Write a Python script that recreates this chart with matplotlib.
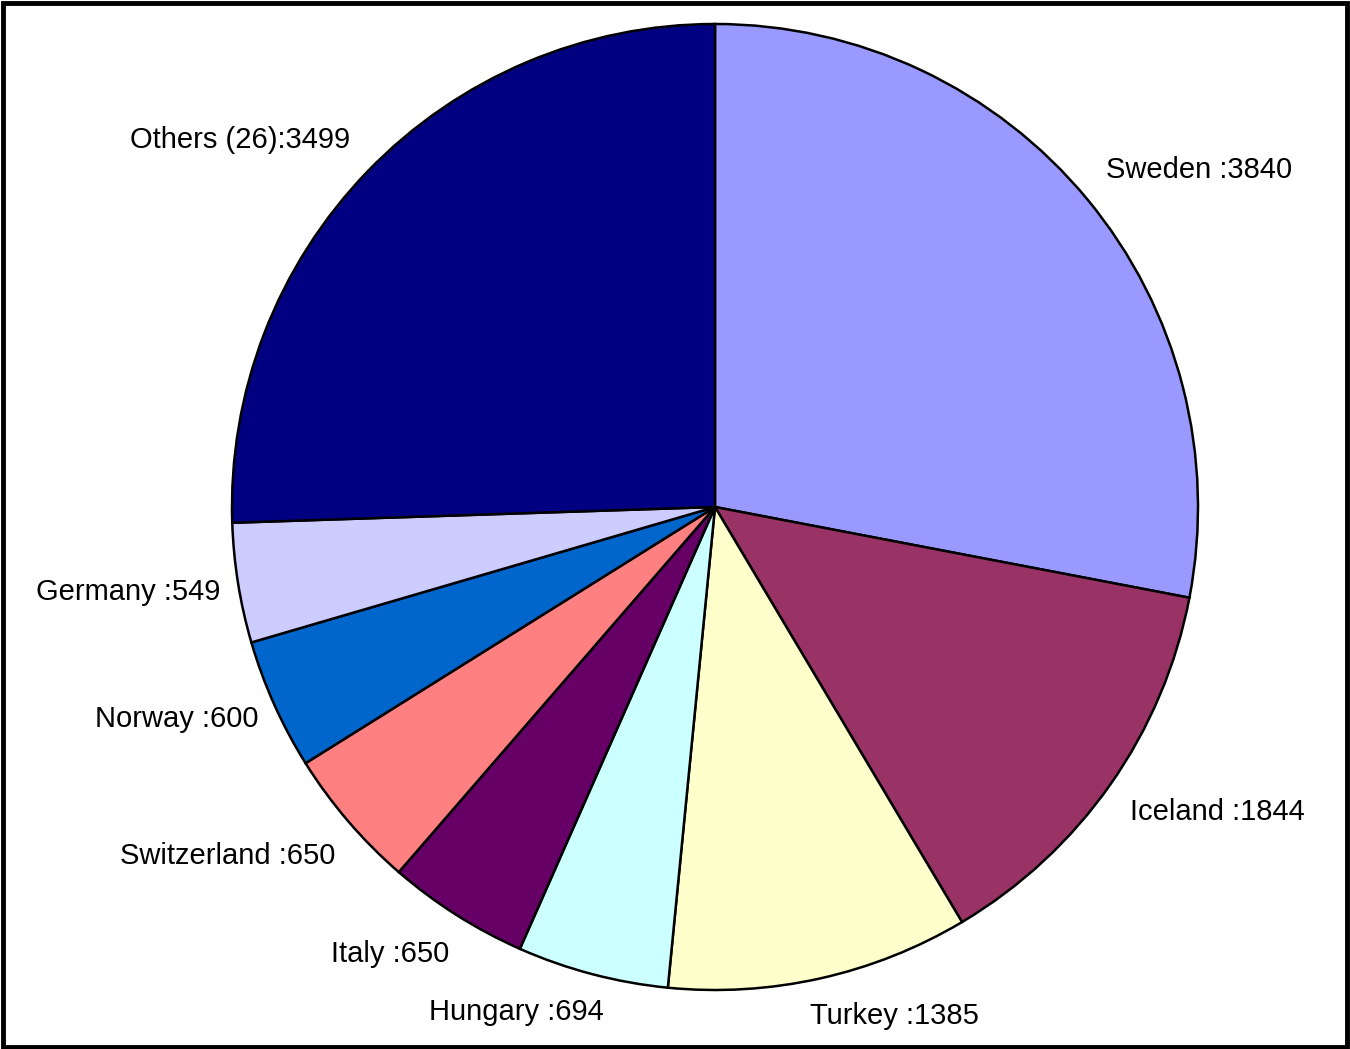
import numpy as np
import matplotlib
matplotlib.use("Agg")
import matplotlib.pyplot as plt
from matplotlib.patches import Rectangle

countries = ["Sweden", "Iceland", "Turkey", "Hungary", "Italy",
             "Switzerland", "Norway", "Germany", "Others (26)"]
values = [3840, 1844, 1385, 694, 650, 650, 600, 549, 3499]
colors = ["#9999FF", "#993366", "#FFFFCC", "#CCFFFF", "#660066",
          "#FF8080", "#0066CC", "#CCCCFF", "#000080"]

plt.rcParams["font.family"] = ["Liberation Sans", "DejaVu Sans"]

W, H, DPI = 1350, 1049, 100
fig = plt.figure(figsize=(W / DPI, H / DPI), dpi=DPI, facecolor="white")
ax = fig.add_axes([0, 0, 1, 1])

wedges, _ = ax.pie(values, colors=colors, startangle=90, counterclock=False,
                   radius=1.0, center=(0, 0),
                   wedgeprops=dict(edgecolor="black", linewidth=1.8),
                   frame=True)

# pie centre and radius in pixels
cx, cy, rad = 715, 507, 483
ax.set_xlim(-cx / rad, (W - cx) / rad)
ax.set_ylim(-(H - cy) / rad, cy / rad)
ax.set_aspect("equal")
ax.set_axis_off()

for w, name, v in zip(wedges, countries, values):
    mid = np.deg2rad((w.theta1 + w.theta2) / 2)
    c, s = np.cos(mid), np.sin(mid)
    x, y = 1.05 * c, 1.05 * s
    if s < -0.9:
        # labels under the pie sit a little closer to the bottom centre
        x *= 0.86
    elif c < 0 and s < 0.5:
        x += 0.012
        y -= 0.01
    ha = "left" if c > 0 else "right"
    if s < -0.5:
        va = "top"
    elif s > 0.5:
        va = "bottom"
    else:
        va = "center"
    sep = "" if name.startswith("Others") else " "
    ax.text(x, y, f"{name}{sep}:{v}", ha=ha, va=va, fontsize=21, color="black")

# outer frame around the chart area
fig.patches.append(Rectangle((0.002, 0.002), 0.996, 0.995, transform=fig.transFigure,
                             fill=False, edgecolor="black", linewidth=3.5))

fig.savefig("out.png", dpi=DPI, facecolor="white")
